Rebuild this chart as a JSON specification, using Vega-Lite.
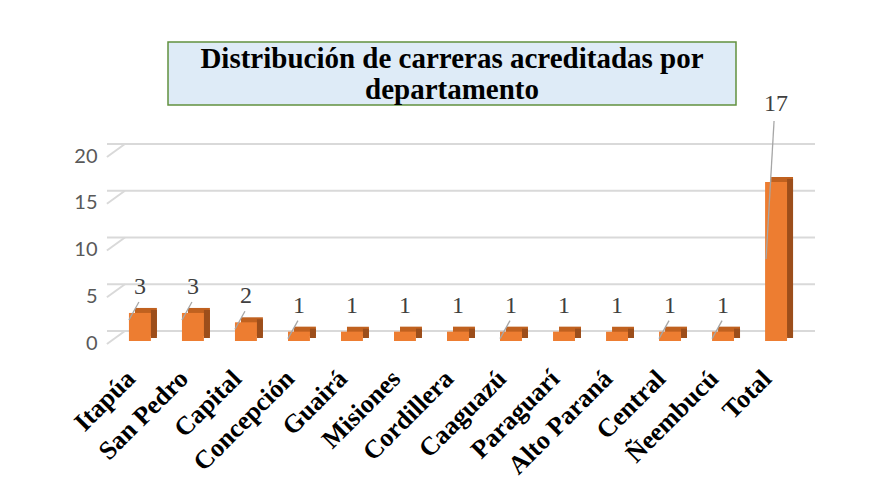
{
  "$schema": "https://vega.github.io/schema/vega-lite/v6.json",
  "padding": {"left": 69, "top": 41, "right": 0, "bottom": 0},
  "background": "white",
  "bounds": "flush",
  "center": true,
  "spacing": 49,
  "config": {"view": {"stroke": null}},
  "vconcat": [
    {
      "width": 568, "height": 63,
      "view": {"fill": "#DEEBF7", "stroke": "#62913F", "strokeWidth": 1.5},
      "data": {"values": [{}]},
      "mark": {"type": "text", "font": "Liberation Serif", "fontWeight": "bold", "fontSize": 29, "lineHeight": 31, "color": "#000000", "baseline": "middle", "align": "center", "dy": -14.5},
      "encoding": {"text": {"value": ["Distribución de carreras acreditadas  por", "departamento"]}}
    },
    {
      "width": 690, "height": 187,
      "data": {"values": [
        {"departamento": "Itapúa", "n": 3},
        {"departamento": "San Pedro", "n": 3},
        {"departamento": "Capital", "n": 2},
        {"departamento": "Concepción", "n": 1},
        {"departamento": "Guairá", "n": 1},
        {"departamento": "Misiones", "n": 1},
        {"departamento": "Cordillera", "n": 1},
        {"departamento": "Caaguazú", "n": 1},
        {"departamento": "Paraguarí", "n": 1},
        {"departamento": "Alto Paraná", "n": 1},
        {"departamento": "Central", "n": 1},
        {"departamento": "Ñeembucú", "n": 1},
        {"departamento": "Total", "n": 17}
      ]},
      "encoding": {
        "x": {"field": "departamento", "type": "nominal", "sort": null,
          "scale": {"paddingInner": 0.586, "paddingOuter": 0.301, "align": 0.6875},
          "axis": {"title": null, "labelAngle": -45, "labelFont": "Liberation Serif", "labelFontWeight": "bold", "labelFontSize": 26, "labelColor": "#000000", "ticks": false, "domain": false, "labelPadding": 24, "labelOffset": -18, "labelLimit": 0}}
      },
      "layer": [
        {
          "data": {"values": [{"g": 0}, {"g": 5}, {"g": 10}, {"g": 15}, {"g": 20}]},
          "mark": {"type": "rule", "color": "#D9D9D9", "strokeWidth": 2, "xOffset": 18, "yOffset": -10},
          "encoding": {
            "x": null,
            "y": {"field": "g", "type": "quantitative", "scale": {"domain": [0, 20], "nice": false},
              "axis": {"title": null, "values": [0, 5, 10, 15, 20], "labelFont": "Lato", "labelFontSize": 20, "labelColor": "#595959", "ticks": false, "domain": false, "grid": false, "labelPadding": 10, "labelOffset": 2}}
          }
        },
        {
          "data": {"values": [{"g": 0}, {"g": 5}, {"g": 10}, {"g": 15}, {"g": 20}]},
          "mark": {"type": "rule", "color": "#D9D9D9", "strokeWidth": 2, "xOffset": -33, "x2Offset": -15, "yOffset": 3, "y2Offset": -10},
          "encoding": {
            "x": {"datum": "Itapúa"},
            "x2": {"datum": "Itapúa"},
            "y": {"field": "g", "type": "quantitative"},
            "y2": {"field": "g"}
          }
        },
        {
          "mark": {"type": "bar", "color": "#C0611F", "xOffset": 6, "yOffset": -5, "y2Offset": -5},
          "encoding": {"y": {"field": "n", "type": "quantitative"}}
        },
        {
          "mark": {"type": "bar", "color": "#9C4E1B", "width": 6, "xOffset": 14, "yOffset": -3, "y2Offset": -3},
          "encoding": {"y": {"field": "n", "type": "quantitative"}}
        },
        {
          "mark": {"type": "bar", "color": "#ED7D31"},
          "encoding": {"y": {"field": "n", "type": "quantitative"}}
        },
        {
          "transform": [{"filter": {"field": "departamento", "oneOf": ["Itapúa", "San Pedro", "Capital", "Concepción", "Caaguazú", "Central", "Ñeembucú"]}}],
          "mark": {"type": "rule", "color": "#A6A6A6", "strokeWidth": 1.3, "xOffset": -11, "x2Offset": -1, "yOffset": 7, "y2Offset": -11},
          "encoding": {
            "x2": {"field": "departamento"},
            "y": {"field": "n", "type": "quantitative"},
            "y2": {"field": "n"}
          }
        },
        {
          "transform": [{"filter": "datum.departamento === 'Total'"}],
          "mark": {"type": "rule", "color": "#A6A6A6", "strokeWidth": 1.3, "xOffset": -10, "x2Offset": -2, "yOffset": 77, "y2Offset": -61},
          "encoding": {
            "x2": {"field": "departamento"},
            "y": {"field": "n", "type": "quantitative"},
            "y2": {"field": "n"}
          }
        },
        {
          "transform": [{"filter": "datum.departamento !== 'Total'"}],
          "mark": {"type": "text", "font": "Liberation Serif", "fontSize": 24, "color": "#404040", "dy": -26, "baseline": "middle"},
          "encoding": {
            "y": {"field": "n", "type": "quantitative"},
            "text": {"field": "n", "type": "quantitative"}
          }
        },
        {
          "transform": [{"filter": "datum.departamento === 'Total'"}],
          "mark": {"type": "text", "font": "Liberation Serif", "fontSize": 24, "color": "#404040", "dy": -78, "baseline": "middle"},
          "encoding": {
            "y": {"field": "n", "type": "quantitative"},
            "text": {"field": "n", "type": "quantitative"}
          }
        }
      ]
    }
  ]
}
